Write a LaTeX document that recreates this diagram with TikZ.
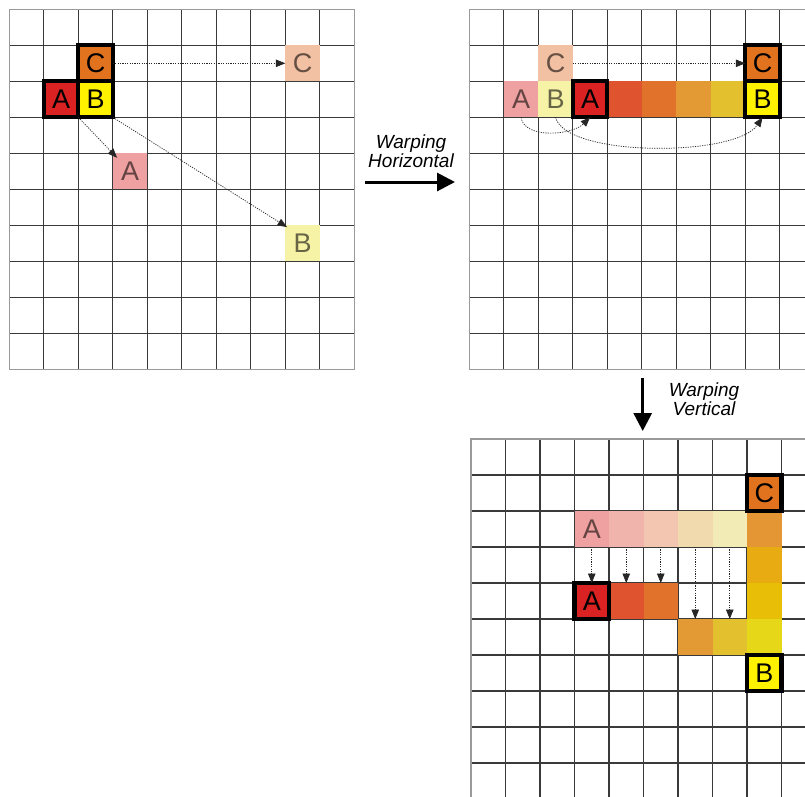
\documentclass[tikz,border=0pt]{standalone}
\usepackage{fontspec}
\setmainfont{Liberation Sans}
\usetikzlibrary{arrows.meta,calc}
\definecolor{kred}{HTML}{DB2222}
\definecolor{korange}{HTML}{E2731E}
\definecolor{kyellow}{HTML}{FFF200}
\definecolor{fA}{HTML}{EFA0A0}
\definecolor{fB}{HTML}{F6F2A6}
\definecolor{fC}{HTML}{F2C0A2}
\definecolor{ga}{HTML}{E0532F}
\definecolor{gb}{HTML}{E1722C}
\definecolor{gc}{HTML}{E39A35}
\definecolor{gd}{HTML}{E2C02E}
\definecolor{qa}{HTML}{F0B4AC}
\definecolor{qb}{HTML}{F2C6B0}
\definecolor{qc}{HTML}{F1DAAE}
\definecolor{qd}{HTML}{F3EBB6}
\definecolor{va}{HTML}{E39633}
\definecolor{vb}{HTML}{E8AC12}
\definecolor{vc}{HTML}{E8BE06}
\definecolor{vd}{HTML}{E6D818}
\definecolor{gridc}{HTML}{3A3A3A}
\definecolor{borderc}{HTML}{9A9A9A}
\begin{document}
\begin{tikzpicture}[x=1pt,y=-1pt,
  gridline/.style={draw=gridc, line width=1.1pt},
  gridborder/.style={draw=borderc, line width=1.5pt},
  cell/.style={minimum width=34.5pt, minimum height=36pt, inner sep=0pt, outer sep=0pt,
    font=\fontsize{27}{27}\selectfont, text=black, text opacity=0.58},
  keycell/.style={cell, draw=black, line width=4.2pt, text opacity=1},
  dotarrow/.style={draw=black!85, line width=0.7pt, dash pattern=on 1.2pt off 1.2pt,
    -{Triangle[length=9.5pt,width=7.5pt]}},
  bigarrow/.style={draw=black, line width=3pt, -{Triangle[length=18pt,width=18pt]}},
  lab/.style={font=\fontsize{19}{18.5}\selectfont\itshape, align=center, inner sep=0pt}
]
\useasboundingbox (0,0) rectangle (805,796);
\fill[white] (0,0) rectangle (805,796);
\clip (0,0) rectangle (805,796);

% ---------- grids ----------
\foreach \i in {1,...,9} {
  \draw[gridline] (9.3+34.5*\i, 9.3) -- (9.3+34.5*\i, 369.3);
  \draw[gridline] (9.3, 9.3+36*\i) -- (354.3, 9.3+36*\i);
  \draw[gridline] (469.3+34.5*\i, 9.3) -- (469.3+34.5*\i, 369.3);
  \draw[gridline] (469.3, 9.3+36*\i) -- (820, 9.3+36*\i);
  \draw[gridline] (471+34.5*\i, 439) -- (471+34.5*\i, 800);
  \draw[gridline] (471, 439+36*\i) -- (820, 439+36*\i);
}
\draw[gridborder] (9.3,9.3) rectangle (354.3,369.3);
\draw[gridborder] (820,9.3) -- (469.3,9.3) -- (469.3,369.3) -- (820,369.3);
\draw[gridborder] (820,439) -- (471,439) -- (471,800);

% ---------- panel 1 ----------
\node[cell, fill=fC] (p1fC) at (302.55,63.3) {C};
\node[cell, fill=fA] (p1fA) at (130.05,171.3) {A};
\node[cell, fill=fB] (p1fB) at (302.55,243.3) {B};
\node[keycell, fill=korange] (p1C) at (95.55,63.3) {C};
\node[keycell, fill=kred] (p1A) at (61.05,99.3) {A};
\node[keycell, fill=kyellow] (p1B) at (95.55,99.3) {B};
\draw[dotarrow] (p1C.east) -- (p1fC.west);
\draw[dotarrow] (p1A.south east) -- ($(p1fA.north west)!0.25!(p1fA.center)$);
\draw[dotarrow] (p1B.south east) -- ($(p1fB.north west)!0.1!(p1fB.center)$);

% ---------- warping horizontal ----------
\coordinate (h1) at (365,182);
\coordinate (h2) at (455,182);
\draw[bigarrow] (h1) -- (h2);
\node[lab] (lh) at (411,151) {Warping\\Horizontal};

% ---------- panel 2 ----------
\node[cell, fill=fC] (p2fC) at (555.55,63.3) {C};
\node[cell, fill=fA] (p2fA) at (521.05,99.3) {A};
\node[cell, fill=fB] (p2fB) at (555.55,99.3) {B};
\node[cell, fill=ga] (p2g1) at (624.55,99.3) {};
\node[cell, fill=gb] (p2g2) at (659.05,99.3) {};
\node[cell, fill=gc] (p2g3) at (693.55,99.3) {};
\node[cell, fill=gd] (p2g4) at (728.05,99.3) {};
\node[keycell, fill=kred] (p2A) at (590.05,99.3) {A};
\node[keycell, fill=korange] (p2C) at (762.55,63.3) {C};
\node[keycell, fill=kyellow] (p2B) at (762.55,99.3) {B};
\draw[dotarrow] (p2fC.east) -- (p2C.west);
\draw[dotarrow] (p2fA.south) .. controls +(3,22) and +(-18,18) .. (p2A.south);
\draw[dotarrow] (p2fB.south) .. controls +(10,40) and +(-27,40) .. (p2B.south);

% ---------- warping vertical ----------
\coordinate (v1) at (642.7,378);
\coordinate (v2) at (642.7,431);
\draw[bigarrow] (v1) -- (v2);
\node[lab] (lv) at (704,399) {Warping\\Vertical};

% ---------- panel 3 ----------
\node[cell, fill=fA] (p3f3) at (591.75,529) {A};
\node[cell, fill=qa] (p3f4) at (626.25,529) {};
\node[cell, fill=qb] (p3f5) at (660.75,529) {};
\node[cell, fill=qc] (p3f6) at (695.25,529) {};
\node[cell, fill=qd] (p3f7) at (729.75,529) {};
\node[cell, fill=va] (p3v2) at (764.25,529) {};
\node[cell, fill=vb] (p3v3) at (764.25,565) {};
\node[cell, fill=vc] (p3v4) at (764.25,601) {};
\node[cell, fill=vd] (p3v5) at (764.25,637) {};
\node[cell, fill=ga] (p3r4) at (626.25,601) {};
\node[cell, fill=gb] (p3r5) at (660.75,601) {};
\node[cell, fill=gc] (p3r6) at (695.25,637) {};
\node[cell, fill=gd] (p3r7) at (729.75,637) {};
\node[keycell, fill=kred] (p3A) at (591.75,601) {A};
\node[keycell, fill=korange] (p3C) at (764.25,493) {C};
\node[keycell, fill=kyellow] (p3B) at (764.25,673) {B};
\draw[dotarrow] (p3f3.south) -- (p3A.north);
\draw[dotarrow] (p3f4.south) -- (p3r4.north);
\draw[dotarrow] (p3f5.south) -- (p3r5.north);
\draw[dotarrow] (p3f6.south) -- (p3r6.north);
\draw[dotarrow] (p3f7.south) -- (p3r7.north);
\end{tikzpicture}
\end{document}
